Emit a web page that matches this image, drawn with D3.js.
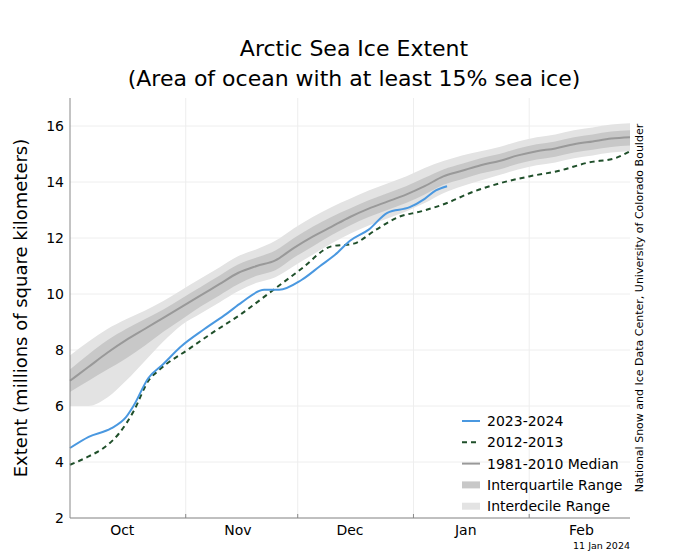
<!DOCTYPE html><html><head><meta charset="utf-8"><script src="https://cdn.jsdelivr.net/npm/d3@7"></script>
<style>body{margin:0;background:#fff;font-family:"DejaVu Sans",sans-serif}</style></head><body><svg id="c" width="680" height="556"></svg>
<script>
const medDays=[0,5,10,15,20,25,30,35,40,45,50,55,60,65,70,75,80,85,90,95,100,105,110,115,120,125,130,135,140,145,150];
const median=[6.9,7.4,7.9,8.35,8.75,9.15,9.55,9.95,10.35,10.75,11.0,11.2,11.65,12.05,12.4,12.75,13.05,13.3,13.55,13.85,14.2,14.4,14.6,14.75,14.95,15.1,15.2,15.35,15.45,15.55,15.6];
const iqrLo=[6.5,6.9,7.3,7.7,8.15,8.65,9.1,9.55,9.95,10.35,10.65,10.85,11.3,11.7,12.1,12.45,12.75,13.0,13.25,13.55,13.9,14.1,14.3,14.45,14.65,14.8,14.9,15.05,15.15,15.25,15.3];
const iqrHi=[7.3,7.85,8.35,8.75,9.1,9.45,9.85,10.25,10.65,11.05,11.3,11.55,12.0,12.4,12.75,13.05,13.35,13.6,13.85,14.15,14.45,14.65,14.85,15.0,15.2,15.35,15.45,15.6,15.7,15.8,15.85];
const idrLo=[6.0,6.0,6.3,6.9,7.6,8.3,8.9,9.3,9.7,10.1,10.4,10.6,11.0,11.4,11.8,12.15,12.45,12.7,12.95,13.25,13.6,13.85,14.05,14.25,14.45,14.6,14.7,14.85,14.95,15.05,15.1];
const idrHi=[7.8,8.3,8.75,9.1,9.4,9.75,10.15,10.55,10.95,11.35,11.6,11.9,12.35,12.75,13.1,13.4,13.7,13.95,14.2,14.5,14.75,14.95,15.1,15.25,15.45,15.6,15.7,15.85,15.95,16.05,16.1];
const blueDays=[0,5,11,15,17,21,25,29.5,36,42,46,52,56,62,67,71,75,80,85,91,95,98,101];
const blue=[4.5,4.9,5.2,5.6,6.0,7.0,7.5,8.1,8.75,9.3,9.7,10.15,10.15,10.5,11.0,11.4,11.9,12.3,12.9,13.1,13.4,13.7,13.85];
const greenDays=[0,5,9,13,17,21,24,32,38,46,54,62,70,76,82,88,94,101,107,115,123,131,139,146,150];
const green=[3.9,4.2,4.5,5.0,5.8,6.9,7.3,8.05,8.6,9.3,10.1,10.9,11.7,11.8,12.3,12.75,12.95,13.25,13.6,13.95,14.2,14.4,14.7,14.85,15.1];
const months=["Oct","Nov","Dec","Jan","Feb"];
const monthStarts=[0,31,61,92,123,151];
const yTicks=[2,4,6,8,10,12,14,16];

const svg=d3.select("#c");
const L=70,R=630,T=98,B=518;
const x=d3.scaleLinear().domain([0,150]).range([L,R]);
const y=d3.scaleLinear().domain([2,17]).range([B,T]);
svg.append("text").attr("x",354).attr("y",56).attr("text-anchor","middle").attr("font-size",22).text("Arctic Sea Ice Extent");
svg.append("text").attr("x",354).attr("y",86).attr("text-anchor","middle").attr("font-size",22).text("(Area of ocean with at least 15% sea ice)");
yTicks.forEach(t=>svg.append("line").attr("x1",L).attr("x2",R).attr("y1",y(t)).attr("y2",y(t)).attr("stroke","#eee"));
monthStarts.slice(1,5).forEach(d=>svg.append("line").attr("x1",x(d)).attr("x2",x(d)).attr("y1",T).attr("y2",B).attr("stroke","#eee"));
const area=(lo,hi)=>d3.area().x((d,i)=>x(medDays[i])).y0((d,i)=>y(lo[i])).y1((d,i)=>y(hi[i])).curve(d3.curveMonotoneX)(medDays);
svg.append("path").attr("d",area(idrLo,idrHi)).attr("fill","#e3e3e3");
svg.append("path").attr("d",area(iqrLo,iqrHi)).attr("fill","#c8c8c8");
const line=d3.line().curve(d3.curveMonotoneX);
svg.append("path").attr("d",line(medDays.map((d,i)=>[x(d),y(median[i])]))).attr("fill","none").attr("stroke","#999").attr("stroke-width",2);
svg.append("path").attr("d",line(greenDays.map((d,i)=>[x(d),y(green[i])]))).attr("fill","none").attr("stroke","#1f4f2a").attr("stroke-width",2).attr("stroke-dasharray","5,4");
svg.append("path").attr("d",line(blueDays.map((d,i)=>[x(d),y(blue[i])]))).attr("fill","none").attr("stroke","#4a98e0").attr("stroke-width",2);
svg.append("line").attr("x1",L).attr("x2",L).attr("y1",T).attr("y2",B).attr("stroke","#888");
svg.append("line").attr("x1",L).attr("x2",R).attr("y1",B).attr("y2",B).attr("stroke","#888");
yTicks.forEach(t=>svg.append("text").attr("x",L-6).attr("y",y(t)+5).attr("text-anchor","end").attr("font-size",14).text(t));
monthStarts.slice(1,5).forEach(d=>svg.append("line").attr("x1",x(d)).attr("x2",x(d)).attr("y1",B).attr("y2",B-4).attr("stroke","#888"));
months.forEach((m,i)=>svg.append("text").attr("x",x(monthStarts[i]+14)).attr("y",B+17).attr("text-anchor","middle").attr("font-size",14).text(m));
svg.append("text").attr("transform","translate(27,308) rotate(-90)").attr("text-anchor","middle").attr("font-size",18).text("Extent (millions of square kilometers)");
svg.append("text").attr("transform","translate(643,308) rotate(-90)").attr("text-anchor","middle").attr("font-size",11).text("National Snow and Ice Data Center, University of Colorado Boulder");
svg.append("text").attr("x",630).attr("y",549).attr("text-anchor","end").attr("font-size",9.5).text("11 Jan 2024");
const leg=[["2023-2024","#4a98e0",2,null],["2012-2013","#1f4f2a",2,"5,4"],["1981-2010 Median","#999",2,null],["Interquartile Range","#c8c8c8",7,null],["Interdecile Range","#e3e3e3",7,null]];
leg.forEach((l,i)=>{const yy=421+i*21.3;
svg.append("line").attr("x1",462).attr("x2",480).attr("y1",yy).attr("y2",yy).attr("stroke",l[1]).attr("stroke-width",l[2]).attr("stroke-dasharray",l[3]);
svg.append("text").attr("x",487).attr("y",yy+5).attr("font-size",14).text(l[0]);});
</script></body></html>
